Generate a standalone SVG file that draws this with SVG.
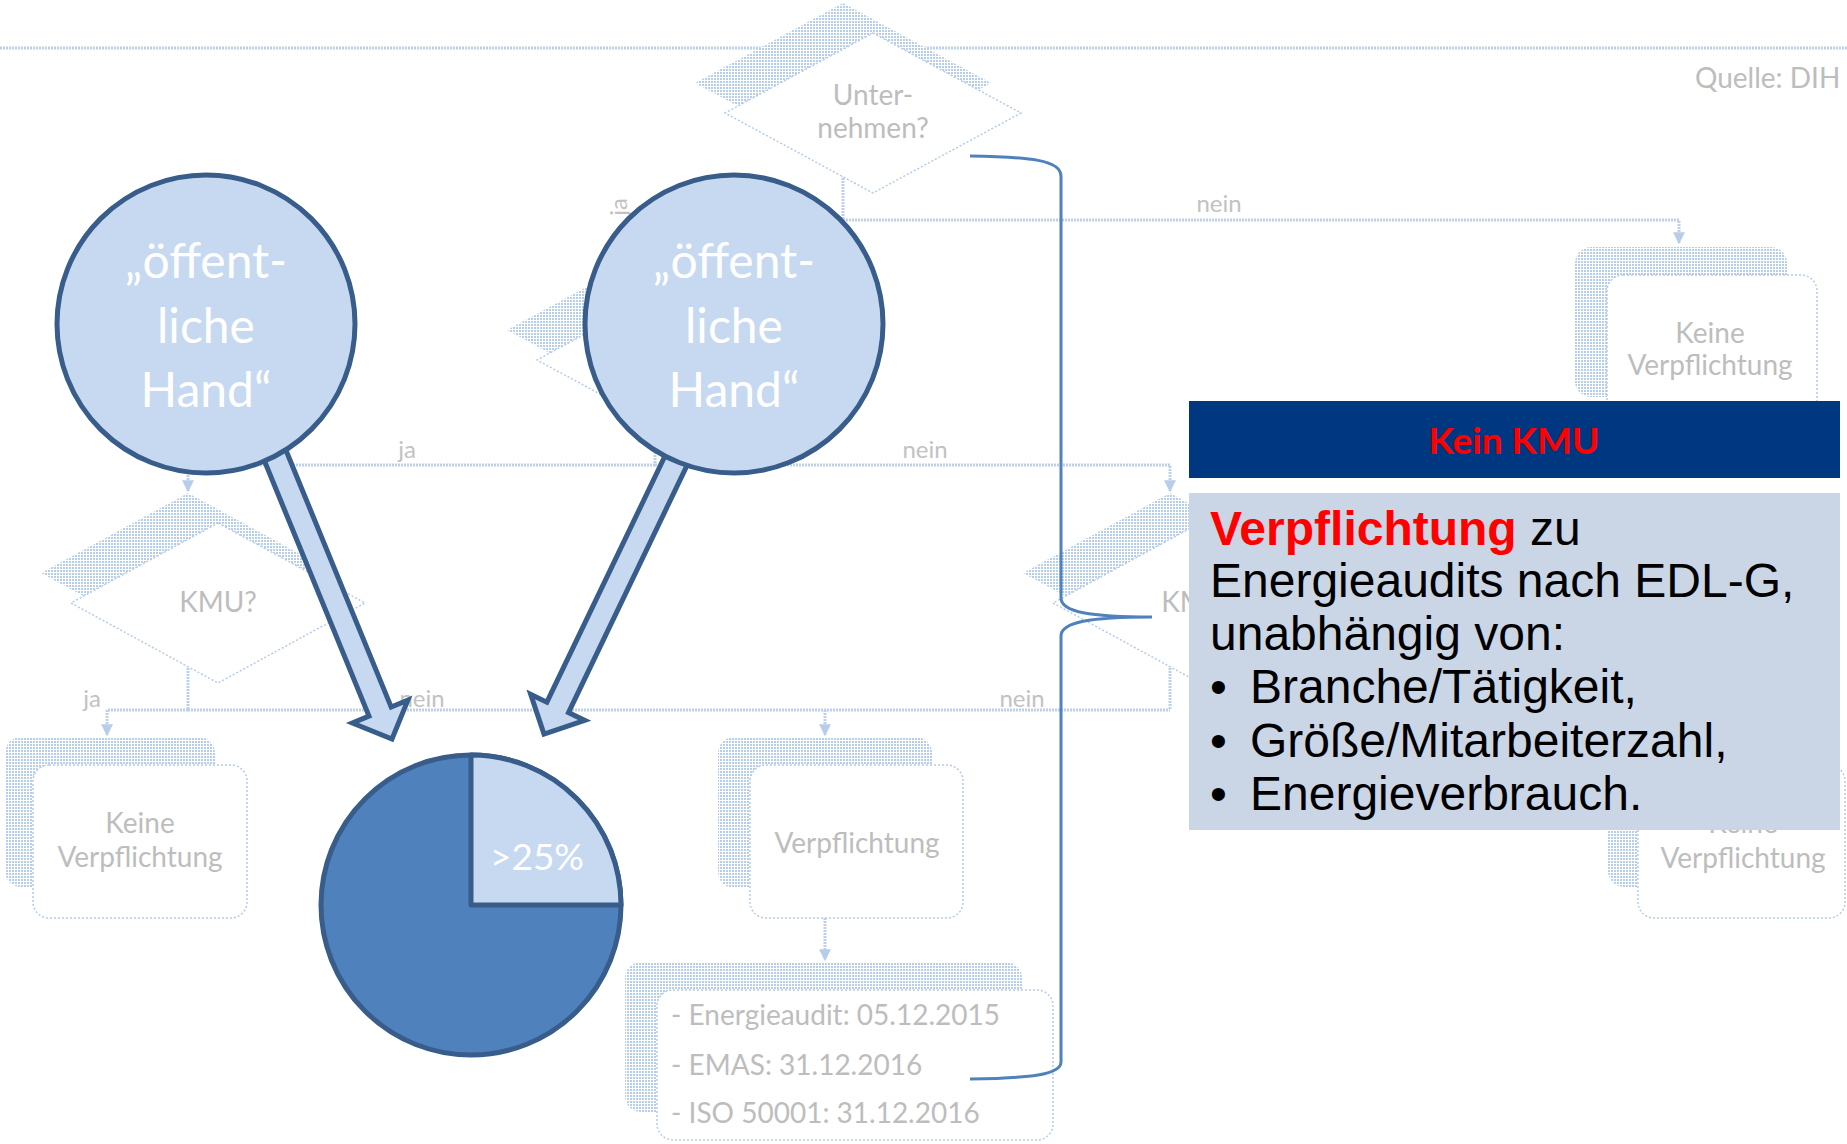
<svg xmlns="http://www.w3.org/2000/svg" width="1847" height="1144" viewBox="0 0 1847 1144">
<defs>
<pattern id="grid" width="3" height="3" patternUnits="userSpaceOnUse">
<rect width="3" height="3" fill="#ffffff"/>
<rect width="2" height="2" fill="#b7cdec"/>
</pattern>
<marker id="fa" viewBox="0 0 10 10" refX="9" refY="5" markerWidth="4" markerHeight="4" orient="auto" markerUnits="strokeWidth">
<path d="M0,0 L10,5 L0,10 Z" fill="#b8cde9"/>
</marker>
</defs>
<style>
.bgline{fill:none;stroke:#bcd0ec;stroke-width:3;stroke-dasharray:2 1}
.shadow{fill:url(#grid)}
.front{fill:#ffffff;stroke:#b5cbe9;stroke-width:1.5;stroke-dasharray:2 2}
.ft{font-family:Lato,"Open Sans",sans-serif;font-size:28px;fill:#bdbdbd;text-anchor:middle}
.lbl{font-family:Lato,"Open Sans",sans-serif;font-size:24px;fill:#c2c2c2;text-anchor:middle}
.blk{fill:#c6d9f0;stroke:#385d8a;stroke-width:5;stroke-linejoin:miter}
.ctext{font-family:Lato,"Open Sans",sans-serif;font-size:48px;fill:#ffffff;text-anchor:middle}
.body{font-family:"Liberation Sans",Arial,sans-serif;font-size:48px;fill:#000000}
</style>
<rect width="1847" height="1144" fill="#ffffff"/>

<g id="connectors">
<line class="bgline" x1="0" y1="48" x2="1847" y2="48"/>
<polyline class="bgline" points="843,163 843,220 655,220 655,250"/>
<polyline class="bgline" points="843,220 1679,220 1679,243" marker-end="url(#fa)"/>
<line class="bgline" x1="655" y1="410" x2="655" y2="465"/>
<polyline class="bgline" points="655,465 188,465 188,491" marker-end="url(#fa)"/>
<polyline class="bgline" points="655,465 1170,465 1170,491" marker-end="url(#fa)"/>
<line class="bgline" x1="188" y1="653" x2="188" y2="710"/>
<line class="bgline" x1="1170" y1="653" x2="1170" y2="710"/>
<polyline class="bgline" points="188,710 107,710 107,735" marker-end="url(#fa)"/>
<line class="bgline" x1="188" y1="710" x2="1170" y2="710"/>
<line class="bgline" x1="825" y1="710" x2="825" y2="735" marker-end="url(#fa)"/>
<line class="bgline" x1="825" y1="918" x2="825" y2="960" marker-end="url(#fa)"/>
</g>

<g id="labels">
<text class="lbl" x="1219" y="212">nein</text>
<text class="lbl" x="624" y="210" transform="rotate(-90 624 207)">ja</text>
<text class="lbl" x="407" y="458">ja</text>
<text class="lbl" x="925" y="458">nein</text>
<text class="lbl" x="92" y="707">ja</text>
<text class="lbl" x="422" y="707">nein</text>
<text class="lbl" x="1022" y="707">nein</text>
<text class="ft" x="1695" y="88" style="text-anchor:start">Quelle: DIH</text>
</g>

<g id="d-unternehmen">
<polygon class="shadow" points="843,3 991,83 843,163 695,83"/>
<polygon class="front" points="873,33 1021,113 873,193 725,113"/>
<text class="ft" x="873" y="105">Unter-</text>
<text class="ft" x="873" y="138">nehmen?</text>
</g>

<g id="d-hand">
<polygon class="shadow" points="655,250 803,330 655,410 507,330"/>
<polygon class="front" points="685,280 833,360 685,440 537,360"/>
</g>

<g id="d-kmu-left">
<polygon class="shadow" points="188,493 335,573 188,653 41,573"/>
<polygon class="front" points="218,523 365,603 218,683 71,603"/>
<text class="ft" x="218" y="612">KMU?</text>
</g>

<g id="d-kmu-right">
<polygon class="shadow" points="1170,493 1317,573 1170,653 1023,573"/>
<polygon class="front" points="1200,523 1347,603 1200,683 1053,603"/>
<text class="ft" x="1200" y="612">KMU?</text>
</g>

<g id="box-keine-top">
<rect class="shadow" x="1575" y="247" width="212" height="150" rx="16"/>
<rect class="front" x="1607" y="275" width="210" height="153" rx="16"/>
<text class="ft" x="1710" y="343">Keine</text>
<text class="ft" x="1710" y="375">Verpflichtung</text>
</g>

<g id="box-keine-left">
<rect class="shadow" x="5" y="737" width="210" height="150" rx="16"/>
<rect class="front" x="33" y="765" width="214" height="153" rx="16"/>
<text class="ft" x="140" y="833">Keine</text>
<text class="ft" x="140" y="867">Verpflichtung</text>
</g>

<g id="box-verpflichtung">
<rect class="shadow" x="718" y="737" width="214" height="151" rx="16"/>
<rect class="front" x="750" y="765" width="213" height="153" rx="16"/>
<text class="ft" x="857" y="853">Verpflichtung</text>
</g>

<g id="box-fristen">
<rect class="shadow" x="625" y="962" width="397" height="150" rx="16"/>
<rect class="front" x="657" y="990" width="396" height="150" rx="16"/>
<text class="ft" x="671" y="1025" style="text-anchor:start">- Energieaudit: 05.12.2015</text>
<text class="ft" x="671" y="1075" style="text-anchor:start">- EMAS: 31.12.2016</text>
<text class="ft" x="671" y="1123" style="text-anchor:start">- ISO 50001: 31.12.2016</text>
</g>

<g id="box-keine-right">
<rect class="shadow" x="1608" y="737" width="210" height="150" rx="16"/>
<rect class="front" x="1638" y="765" width="207" height="153" rx="16"/>
<text class="ft" x="1743" y="833">Keine</text>
<text class="ft" x="1743" y="868">Verpflichtung</text>
</g>

<g id="brace">
<path d="M970,156 C1030,157 1061,160 1061,176 L1061,598 C1061,612 1090,617 1152,617 C1090,617 1061,622 1061,636 L1061,1062 C1061,1075 1030,1078 970,1079" fill="none" stroke="#4f81bd" stroke-width="3"/>
</g>

<g id="block-arrows">
<polygon class="blk" points="256.9,442.5 279.1,433.5 391.2,707.1 407.9,700.2 392,739 352.4,723.0 369.0,716.1"/>
<polygon class="blk" points="674.8,435.5 696.4,445.9 568.5,712.6 584.7,720.4 544,734 530.7,694.4 546.9,702.2"/>
</g>

<g id="circle-hand-1">
<circle cx="206" cy="324" r="149" fill="#c6d9f0" stroke="#385d8a" stroke-width="5"/>
<text class="ctext" x="206" y="278">„öffent-</text>
<text class="ctext" x="206" y="343">liche</text>
<text class="ctext" x="206" y="407">Hand“</text>
</g>

<g id="circle-hand-2">
<circle cx="734" cy="324" r="149" fill="#c6d9f0" stroke="#385d8a" stroke-width="5"/>
<text class="ctext" x="734" y="278">„öffent-</text>
<text class="ctext" x="734" y="343">liche</text>
<text class="ctext" x="734" y="407">Hand“</text>
</g>

<g id="pie">
<circle cx="471" cy="905" r="150" fill="#4f81bd" stroke="#385d8a" stroke-width="5"/>
<path d="M471,905 L471,755 A150,150 0 0 1 621,905 Z" fill="#c6d9f0" stroke="#385d8a" stroke-width="5" stroke-linejoin="round"/>
<text x="537" y="870" style="font-family:Lato,'Open Sans',sans-serif;font-size:37px;fill:#ffffff;text-anchor:middle">&gt;25%</text>
</g>

<g id="kein-kmu">
<rect x="1189" y="401" width="651" height="77" fill="#003781"/>
<text x="1514" y="454" style="font-family:Lato,'Open Sans',sans-serif;font-size:37px;font-weight:bold;fill:#ff0000;text-anchor:middle">Kein KMU</text>
<rect x="1189" y="493" width="651" height="337" fill="#cad6e6"/>
<text class="body" x="1210" y="545"><tspan style="font-weight:bold;fill:#ff0000">Verpflichtung</tspan> zu</text>
<text class="body" x="1210" y="597">Energieaudits nach EDL-G,</text>
<text class="body" x="1210" y="650">unabhängig von:</text>
<text class="body" x="1210" y="703">•</text>
<text class="body" x="1250" y="703">Branche/Tätigkeit,</text>
<text class="body" x="1210" y="757">•</text>
<text class="body" x="1250" y="757">Größe/Mitarbeiterzahl,</text>
<text class="body" x="1210" y="810">•</text>
<text class="body" x="1250" y="810">Energieverbrauch.</text>
</g>
</svg>
